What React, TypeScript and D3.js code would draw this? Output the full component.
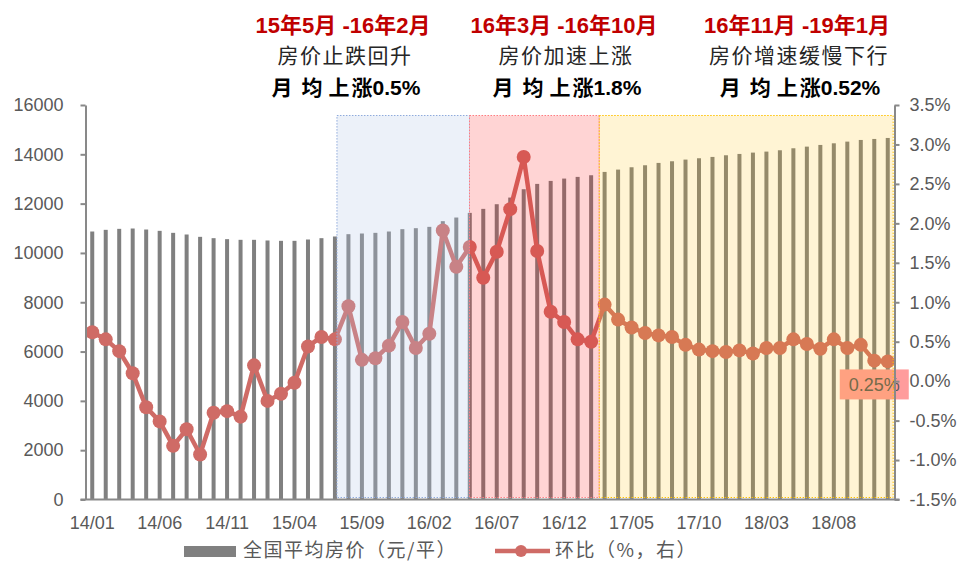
import React, { useRef, useEffect } from 'react';
import * as d3 from 'd3';

// months 14/01 .. 18/12
const months: string[] = d3
    .timeMonths(new Date(2014, 0, 1), new Date(2019, 0, 1))
    .map(d3.timeFormat('%y/%m'));

const tickLabels = ['14/01', '14/06', '14/11', '15/04', '15/09', '16/02', '16/07', '16/12', '17/05', '17/10', '18/03', '18/08'];

// 全国平均房价 (元/平)
const avgPrice = [
    10869, 10937, 10977, 10991, 10950, 10896, 10815, 10748, 10653, 10599,
    10559, 10532, 10532, 10505, 10491, 10491, 10545, 10599, 10667, 10761,
    10788, 10815, 10869, 10964, 11004, 11058, 11288, 11436, 11625, 11787,
    11976, 12246, 12584, 12800, 12921, 13016, 13084, 13151, 13286, 13380,
    13475, 13556, 13651, 13718, 13786, 13840, 13894, 13961, 14015, 14069,
    14110, 14164, 14245, 14312, 14380, 14447, 14515, 14582, 14623, 14663,
];

// 环比 (%)
const momChange = [
    0.62, 0.53, 0.38, 0.10, -0.33, -0.51, -0.82, -0.61, -0.93, -0.40,
    -0.38, -0.45, 0.20, -0.25, -0.16, -0.02, 0.44, 0.56, 0.53, 0.95,
    0.27, 0.29, 0.45, 0.75, 0.42, 0.60, 1.91, 1.45, 1.70, 1.31,
    1.64, 2.18, 2.84, 1.65, 0.88, 0.75, 0.53, 0.50, 0.97, 0.78,
    0.68, 0.61, 0.58, 0.56, 0.46, 0.40, 0.38, 0.37, 0.39, 0.35,
    0.42, 0.42, 0.53, 0.47, 0.41, 0.53, 0.42, 0.46, 0.26, 0.25,
];

const leftTicks = [0, 2000, 4000, 6000, 8000, 10000, 12000, 14000, 16000];
const rightTicks = [-1.5, -1.0, -0.5, 0, 0.5, 1.0, 1.5, 2.0, 2.5, 3.0, 3.5];

const periodTitles = ['15年5月 -16年2月', '16年3月 -16年10月', '16年11月 -19年1月'];
const periodSubtitles = ['房价止跌回升', '房价加速上涨', '房价增速缓慢下行'];
const periodAvg = ['0.5%', '1.8%', '0.52%'];

const lastLabel = '0.25%';

const NUM_FONT = "'Liberation Sans', Arial, 'Noto Sans CJK SC', sans-serif";
const CJK_FONT = "'Noto Sans CJK SC', sans-serif";
const LINE_COLOR = '#CF6B66';

const App = () => {
    const svgRef = useRef<SVGSVGElement | null>(null);
    const width = 976;
    const height = 562;

    useEffect(() => {
        const svg = d3.select(svgRef.current);
        svg.selectAll('*').remove();

        const margin = { top: 105, right: 81.5, bottom: 62, left: 85.5 };

        const x = d3
            .scaleBand()
            .domain(months)
            .range([margin.left, width - margin.right])
            .padding(0);
        const bw = x.step();
        const cx = (m: string) => (x(m) as number) + bw / 2;
        const edge = (m: string, f: number) => (x(m) as number) + f * bw;

        const yL = d3.scaleLinear().domain([0, 16000]).range([height - margin.bottom - 0.5, margin.top]);
        const yR = d3.scaleLinear().domain([-1.5, 3.5]).range([height - margin.bottom - 0.5, margin.top]);

        // bars
        const barW = 4;
        svg.append('g')
            .selectAll('rect')
            .data(avgPrice)
            .join('rect')
            .attr('x', (d, i) => cx(months[i]) - barW / 2)
            .attr('y', (d) => yL(d))
            .attr('width', barW)
            .attr('height', (d) => yL(0) - yL(d))
            .attr('fill', '#808080');

        // line
        const line = d3
            .line<number>()
            .x((d, i) => cx(months[i]))
            .y((d) => yR(d));
        svg.append('path')
            .datum(momChange)
            .attr('d', line)
            .attr('fill', 'none')
            .attr('stroke', LINE_COLOR)
            .attr('stroke-width', 4.5)
            .attr('stroke-linejoin', 'round');
        svg.append('g')
            .selectAll('circle')
            .data(momChange)
            .join('circle')
            .attr('cx', (d, i) => cx(months[i]))
            .attr('cy', (d) => yR(d))
            .attr('r', 7)
            .attr('fill', LINE_COLOR);

        // last value label box
        const lastX = cx(months[months.length - 1]);
        const lastY = yR(momChange[momChange.length - 1]);
        const lb = svg.append('g').attr('transform', `translate(${lastX - 48},${lastY + 8})`);
        lb.append('rect').attr('width', 69).attr('height', 30).attr('fill', '#FF9C9C');
        lb.append('text')
            .attr('x', 34.5)
            .attr('y', 22)
            .attr('text-anchor', 'middle')
            .attr('font-family', NUM_FONT)
            .attr('font-size', 18)
            .attr('fill', '#595959')
            .text(lastLabel);

        // shaded periods
        const periods = [
            { from: edge('15/07', 0.65), to: edge('16/05', 0.48), fill: '#B4C7E7', op: 0.25, stroke: '#8FAADC' },
            { from: edge('16/05', 0.48), to: edge('17/03', 0.1), fill: '#FF0000', op: 0.17, stroke: '#FF7C80' },
            { from: edge('17/03', 0.1), to: edge('18/12', 0.9), fill: '#FFC000', op: 0.17, stroke: '#FFC000' },
        ];
        const pTop = 115.5;
        const pBot = yL(0) - 2;
        periods.forEach((p) => {
            svg.append('rect')
                .attr('x', p.from)
                .attr('y', pTop)
                .attr('width', p.to - p.from)
                .attr('height', pBot - pTop)
                .attr('fill', p.fill)
                .attr('fill-opacity', p.op)
                .attr('stroke', p.stroke)
                .attr('stroke-width', 1)
                .attr('stroke-dasharray', '1.5 1.5');
        });

        // axes
        const axisColor = '#898989';
        const gL = svg.append('g')
            .attr('transform', `translate(${margin.left},0)`)
            .call(d3.axisLeft(yL).tickValues(leftTicks).tickSize(5).tickPadding(17).tickFormat(d3.format('d')).tickSizeOuter(0));
        const gR = svg.append('g')
            .attr('transform', `translate(${width - margin.right},0)`)
            .call(d3.axisRight(yR).tickValues(rightTicks).tickSize(5).tickPadding(10).tickFormat((d) => `${(+d).toFixed(1)}%`).tickSizeOuter(0));
        const gB = svg.append('g')
            .attr('transform', `translate(0,${yL(0)})`)
            .call(d3.axisBottom(x).tickValues(tickLabels).tickSize(0).tickPadding(17));
        gB.select('.domain').remove();
        svg.append('line')
            .attr('x1', margin.left - 5)
            .attr('x2', width - margin.right + 5)
            .attr('y1', yL(0))
            .attr('y2', yL(0))
            .attr('stroke', axisColor)
            .attr('stroke-width', 2);
        [gL, gR, gB].forEach((g) => {
            g.selectAll('.domain, .tick line').attr('stroke', axisColor).attr('stroke-width', 2);
            g.selectAll('text').attr('font-family', NUM_FONT).attr('font-size', 18).attr('fill', '#595959');
        });

        // period annotations
        const titleX = [343, 564, 797];
        titleX.forEach((tx, i) => {
            svg.append('text')
                .attr('x', tx)
                .attr('y', 33)
                .attr('text-anchor', 'middle')
                .attr('font-family', NUM_FONT)
                .attr('font-weight', 'bold')
                .attr('font-size', 22)
                .attr('fill', '#C00000')
                .text(periodTitles[i]);
            svg.append('text')
                .attr('x', tx + 2)
                .attr('y', 63)
                .attr('text-anchor', 'middle')
                .attr('font-family', CJK_FONT)
                .attr('font-size', 21)
                .attr('letter-spacing', 1.5)
                .attr('fill', '#262626')
                .text(periodSubtitles[i]);
            const t3 = svg.append('text')
                .attr('x', tx + 3)
                .attr('y', 95)
                .attr('text-anchor', 'middle')
                .attr('font-family', NUM_FONT)
                .attr('font-weight', 'bold')
                .attr('font-size', 21)
                .attr('fill', '#000');
            t3.append('tspan').attr('letter-spacing', 9).text('月');
            t3.append('tspan').attr('letter-spacing', 6).text('均');
            t3.append('tspan').attr('letter-spacing', 2).text('上');
            t3.append('tspan').text('涨' + periodAvg[i]);
        });

        // legend
        const lg = svg.append('g');
        lg.append('rect').attr('x', 184).attr('y', 546).attr('width', 52).attr('height', 11).attr('fill', '#808080');
        lg.append('text')
            .attr('x', 243)
            .attr('y', 557)
            .attr('font-family', CJK_FONT)
            .attr('font-size', 19)
            .attr('letter-spacing', 1.5)
            .attr('fill', '#595959')
            .text('全国平均房价（元/平）');
        lg.append('line').attr('x1', 495).attr('x2', 550).attr('y1', 551).attr('y2', 551)
            .attr('stroke', LINE_COLOR).attr('stroke-width', 4.5);
        lg.append('circle').attr('cx', 521).attr('cy', 551).attr('r', 6).attr('fill', LINE_COLOR);
        lg.append('text')
            .attr('x', 555)
            .attr('y', 557)
            .attr('font-family', CJK_FONT)
            .attr('font-size', 19)
            .attr('letter-spacing', 1.5)
            .attr('fill', '#595959')
            .text('环比（%，右）');
    }, []);

    return (
        <svg
            ref={svgRef}
            width={width}
            height={height}
            style={{ position: 'absolute', left: 0, top: 0, background: '#fff' }}
        ></svg>
    );
};

export default App;
